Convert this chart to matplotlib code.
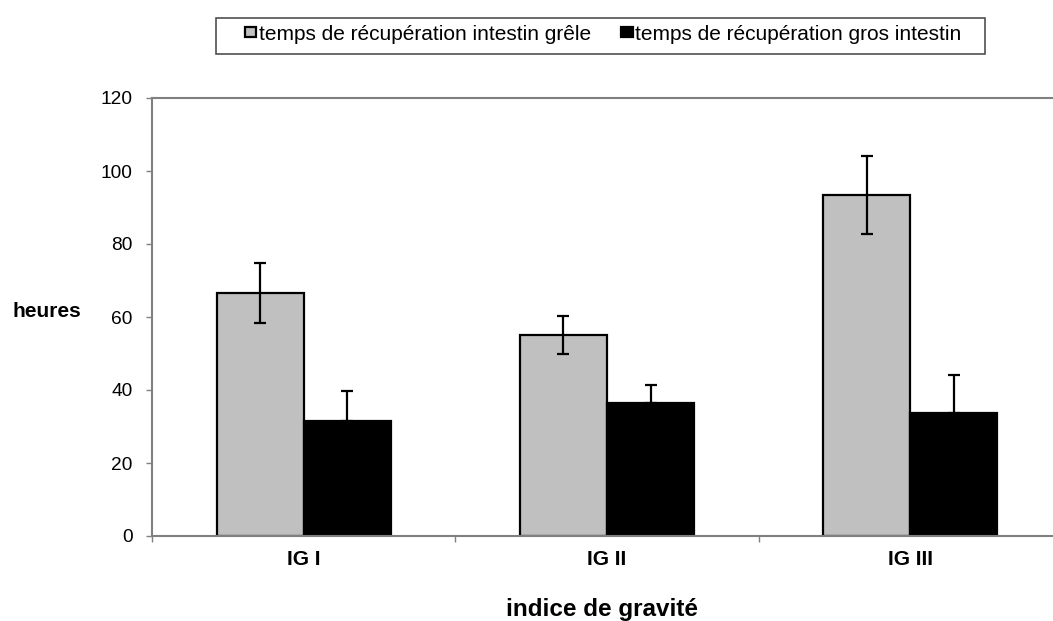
import numpy as np
import matplotlib
matplotlib.use("Agg")
import matplotlib.pyplot as plt
from matplotlib.patches import Rectangle

plt.rcParams['font.family'] = ['Liberation Sans', 'DejaVu Sans']

categories = ['IG I', 'IG II', 'IG III']
grele = [66.5, 55.0, 93.5]
grele_err = [8.2, 5.2, 10.7]
gros = [31.6, 36.5, 33.6]
gros_err = [8.0, 5.0, 10.5]

label_grele = 'temps de récupération intestin grêle'
label_gros = 'temps de récupération gros intestin'

W, H = 1053, 621
fig = plt.figure(figsize=(W / 100, H / 100), dpi=100)
ax = fig.add_axes([152 / W, 85 / H, 910 / W, 438 / H])

x = np.arange(len(categories))
w = 0.287
ax.bar(x - w / 2, grele, w, color='#c0c0c0', edgecolor='black', linewidth=1.6,
       label=label_grele, zorder=2)
ax.bar(x + w / 2, gros, w, color='black', edgecolor='black', linewidth=1.6,
       label=label_gros, zorder=2)
ax.errorbar(x - w / 2, grele, yerr=grele_err, fmt='none', ecolor='black',
            elinewidth=1.6, capsize=4.5, capthick=1.6, zorder=3)
ax.errorbar(x + w / 2, gros, yerr=[np.zeros(3), gros_err], fmt='none',
            ecolor='black', elinewidth=1.6, capsize=4.5, capthick=1.6, zorder=3)

ax.set_xlim(-0.5, 2.5)
ax.set_ylim(0, 120)
ax.set_yticks(np.arange(0, 121, 20))
ax.set_yticklabels([str(v) for v in range(0, 121, 20)], fontsize=13.8)

# category labels in the middle, ticks on the boundaries
ax.set_xticks([-0.5, 0.5, 1.5])
ax.set_xticklabels([])
ax.set_xticks(x, minor=True)
ax.set_xticklabels(categories, minor=True, fontsize=15, fontweight='bold')
ax.tick_params(axis='x', which='minor', length=0, pad=10)
ax.tick_params(axis='x', which='major', length=4.5, color='#808080', width=1)
ax.tick_params(axis='y', length=4.5, color='#808080', width=1, pad=9.5)

for s in ['left', 'top', 'bottom']:
    ax.spines[s].set_color('#808080')
    ax.spines[s].set_linewidth(1.5)
ax.spines['right'].set_visible(False)

fig.text(602.5 / W, 1 - 616 / H, 'indice de gravité', fontsize=17.5,
         fontweight='bold', ha='center', va='baseline')
fig.text(47 / W, 1 - 317 / H, 'heures', fontsize=15, fontweight='bold',
         ha='center', va='baseline')

leg = fig.legend(loc='center left', bbox_to_anchor=(245 / W, 1 - 34 / H), ncol=2,
                 fontsize=15, frameon=False, borderpad=0, borderaxespad=0,
                 handlelength=0.55, handleheight=0.42, handletextpad=0.12,
                 columnspacing=1.45)
fig.patches.append(Rectangle((216 / W, 1 - 54 / H), 769 / W, 36 / H,
                             transform=fig.transFigure, fill=False,
                             edgecolor='#505050', linewidth=1.2))

plt.savefig('out.png', dpi=100)
